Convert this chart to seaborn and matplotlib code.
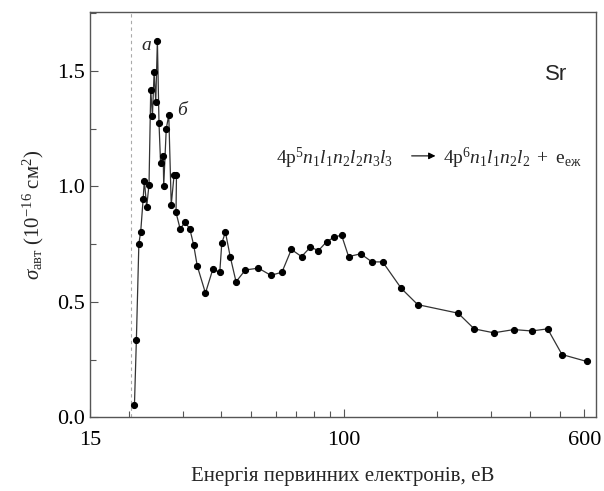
import numpy as np
import pandas as pd
import matplotlib
matplotlib.use("Agg")
import matplotlib.pyplot as plt
from matplotlib.ticker import FixedLocator, FixedFormatter, MultipleLocator, FormatStrFormatter
import seaborn as sns

# ---- data ----
energy_eV = [20.9, 21.2, 21.6, 21.9, 22.3, 22.5, 22.9, 23.3, 23.6, 23.9, 24.2, 24.5,
             24.8, 25.1, 25.4, 25.9, 26.0, 26.5, 27.0, 27.5, 28.1, 28.6, 28.5,
             29.4, 30.5, 31.6, 32.5, 33.4, 35.5, 37.5, 39.5, 40.1, 41.2, 42.7,
             44.6, 47.8, 52.7, 57.8, 62.8, 67.4, 72.7, 77.7, 82.5, 87.6, 92.8,
             98.0, 103.3, 113.0, 123.0, 133.2, 153.1, 173.0, 233.9, 263.7, 305.2,
             354.5, 404.7, 456.0, 507.6, 610.6]
sigma_aut = [0.054, 0.333, 0.752, 0.804, 0.945, 1.025, 0.912, 1.008, 1.418, 1.305, 1.493, 1.366,
             1.631, 1.275, 1.100, 1.133, 1.002, 1.250, 1.309, 0.920, 1.051, 1.051, 0.887,
             0.815, 0.846, 0.815, 0.747, 0.655, 0.538, 0.641, 0.628, 0.754, 0.802, 0.696,
             0.587, 0.638, 0.646, 0.615, 0.628, 0.727, 0.696, 0.737, 0.722, 0.760, 0.780,
             0.789, 0.696, 0.708, 0.673, 0.673, 0.558, 0.488, 0.451, 0.383, 0.366,
             0.380, 0.374, 0.383, 0.272, 0.242]
threshold_eV = 20.3
x_major = [15, 100, 600]
x_major_labels = ["15", "100", "600"]
x_minor = [20, 30, 40, 50, 60, 70, 80, 90, 200, 300, 400, 500]

df = pd.DataFrame({"E": energy_eV, "sigma": sigma_aut})

sns.set_style("ticks")
plt.rcParams["font.family"] = ["Liberation Serif", "DejaVu Serif"]
plt.rcParams["mathtext.fontset"] = "custom"
plt.rcParams["mathtext.rm"] = "Liberation Serif"
plt.rcParams["mathtext.it"] = "Liberation Serif:italic"
plt.rcParams["mathtext.bf"] = "Liberation Serif:bold"

fig = plt.figure(figsize=(6.04, 4.91), dpi=100)
ax = fig.add_axes([0.149, 0.150, 0.838, 0.8256])

ax.axvline(threshold_eV, color="#aaaaaa", lw=0.8, ls=(0, (3, 3)), zorder=1)

sns.lineplot(data=df, x="E", y="sigma", sort=False, ax=ax, color="#333333",
             lw=0.9, marker="o", markersize=4.4, markerfacecolor="black",
             markeredgecolor="black", zorder=3)

ax.set_xscale("log")
ax.set_xlim(15, 655)
ax.set_ylim(0, 1.755)
ax.xaxis.set_major_locator(FixedLocator(x_major))
ax.xaxis.set_major_formatter(FixedFormatter(x_major_labels))
ax.xaxis.set_minor_locator(FixedLocator(x_minor))
ax.xaxis.set_minor_formatter(FixedFormatter([""] * len(x_minor)))
ax.yaxis.set_major_locator(MultipleLocator(0.5))
ax.yaxis.set_major_formatter(FormatStrFormatter("%.1f"))
ax.yaxis.set_minor_locator(MultipleLocator(0.25))

ax.tick_params(which="both", direction="in", colors="#555555", labelcolor="black",
               labelsize=16, width=0.8)
ax.tick_params(which="major", length=6)
ax.tick_params(which="minor", length=4)
ax.tick_params(axis="x", pad=10)
for s in ax.spines.values():
    s.set_color("#555555")
    s.set_linewidth(1.0)

ax.set_xlabel("Енергія первинних електронів, еВ", fontsize=15, labelpad=12)
ax.set_ylabel(r"$\sigma_{\mathrm{авт}}\ (10^{-16}\ \mathrm{см}^{2})$", fontsize=15, labelpad=8)

ax.text(22.9, 1.61, "а", fontsize=14, style="italic", ha="center", va="center")
ax.text(29.9, 1.33, "б", fontsize=14, style="italic", ha="center", va="center")
ax.text(0.92, 0.845, "Sr", transform=ax.transAxes, fontsize=16,
        family=["Liberation Sans", "DejaVu Sans"], ha="center", va="center")

ax.text(0.368, 0.64, r"$\mathrm{4p}^{5}n_{1}l_{1}n_{2}l_{2}n_{3}l_{3}$",
        transform=ax.transAxes, fontsize=14, ha="left", va="center")
ax.annotate("", xy=(0.688, 0.645), xytext=(0.630, 0.645), xycoords="axes fraction",
            arrowprops=dict(arrowstyle="-|>", color="black", lw=0.8, mutation_scale=10))
ax.text(0.698, 0.64, r"$\mathrm{4p}^{6}n_{1}l_{1}n_{2}l_{2}\ +\ \mathrm{e}_{\mathrm{еж}}$",
        transform=ax.transAxes, fontsize=14, ha="left", va="center")

fig.savefig("out.png", dpi=100)
